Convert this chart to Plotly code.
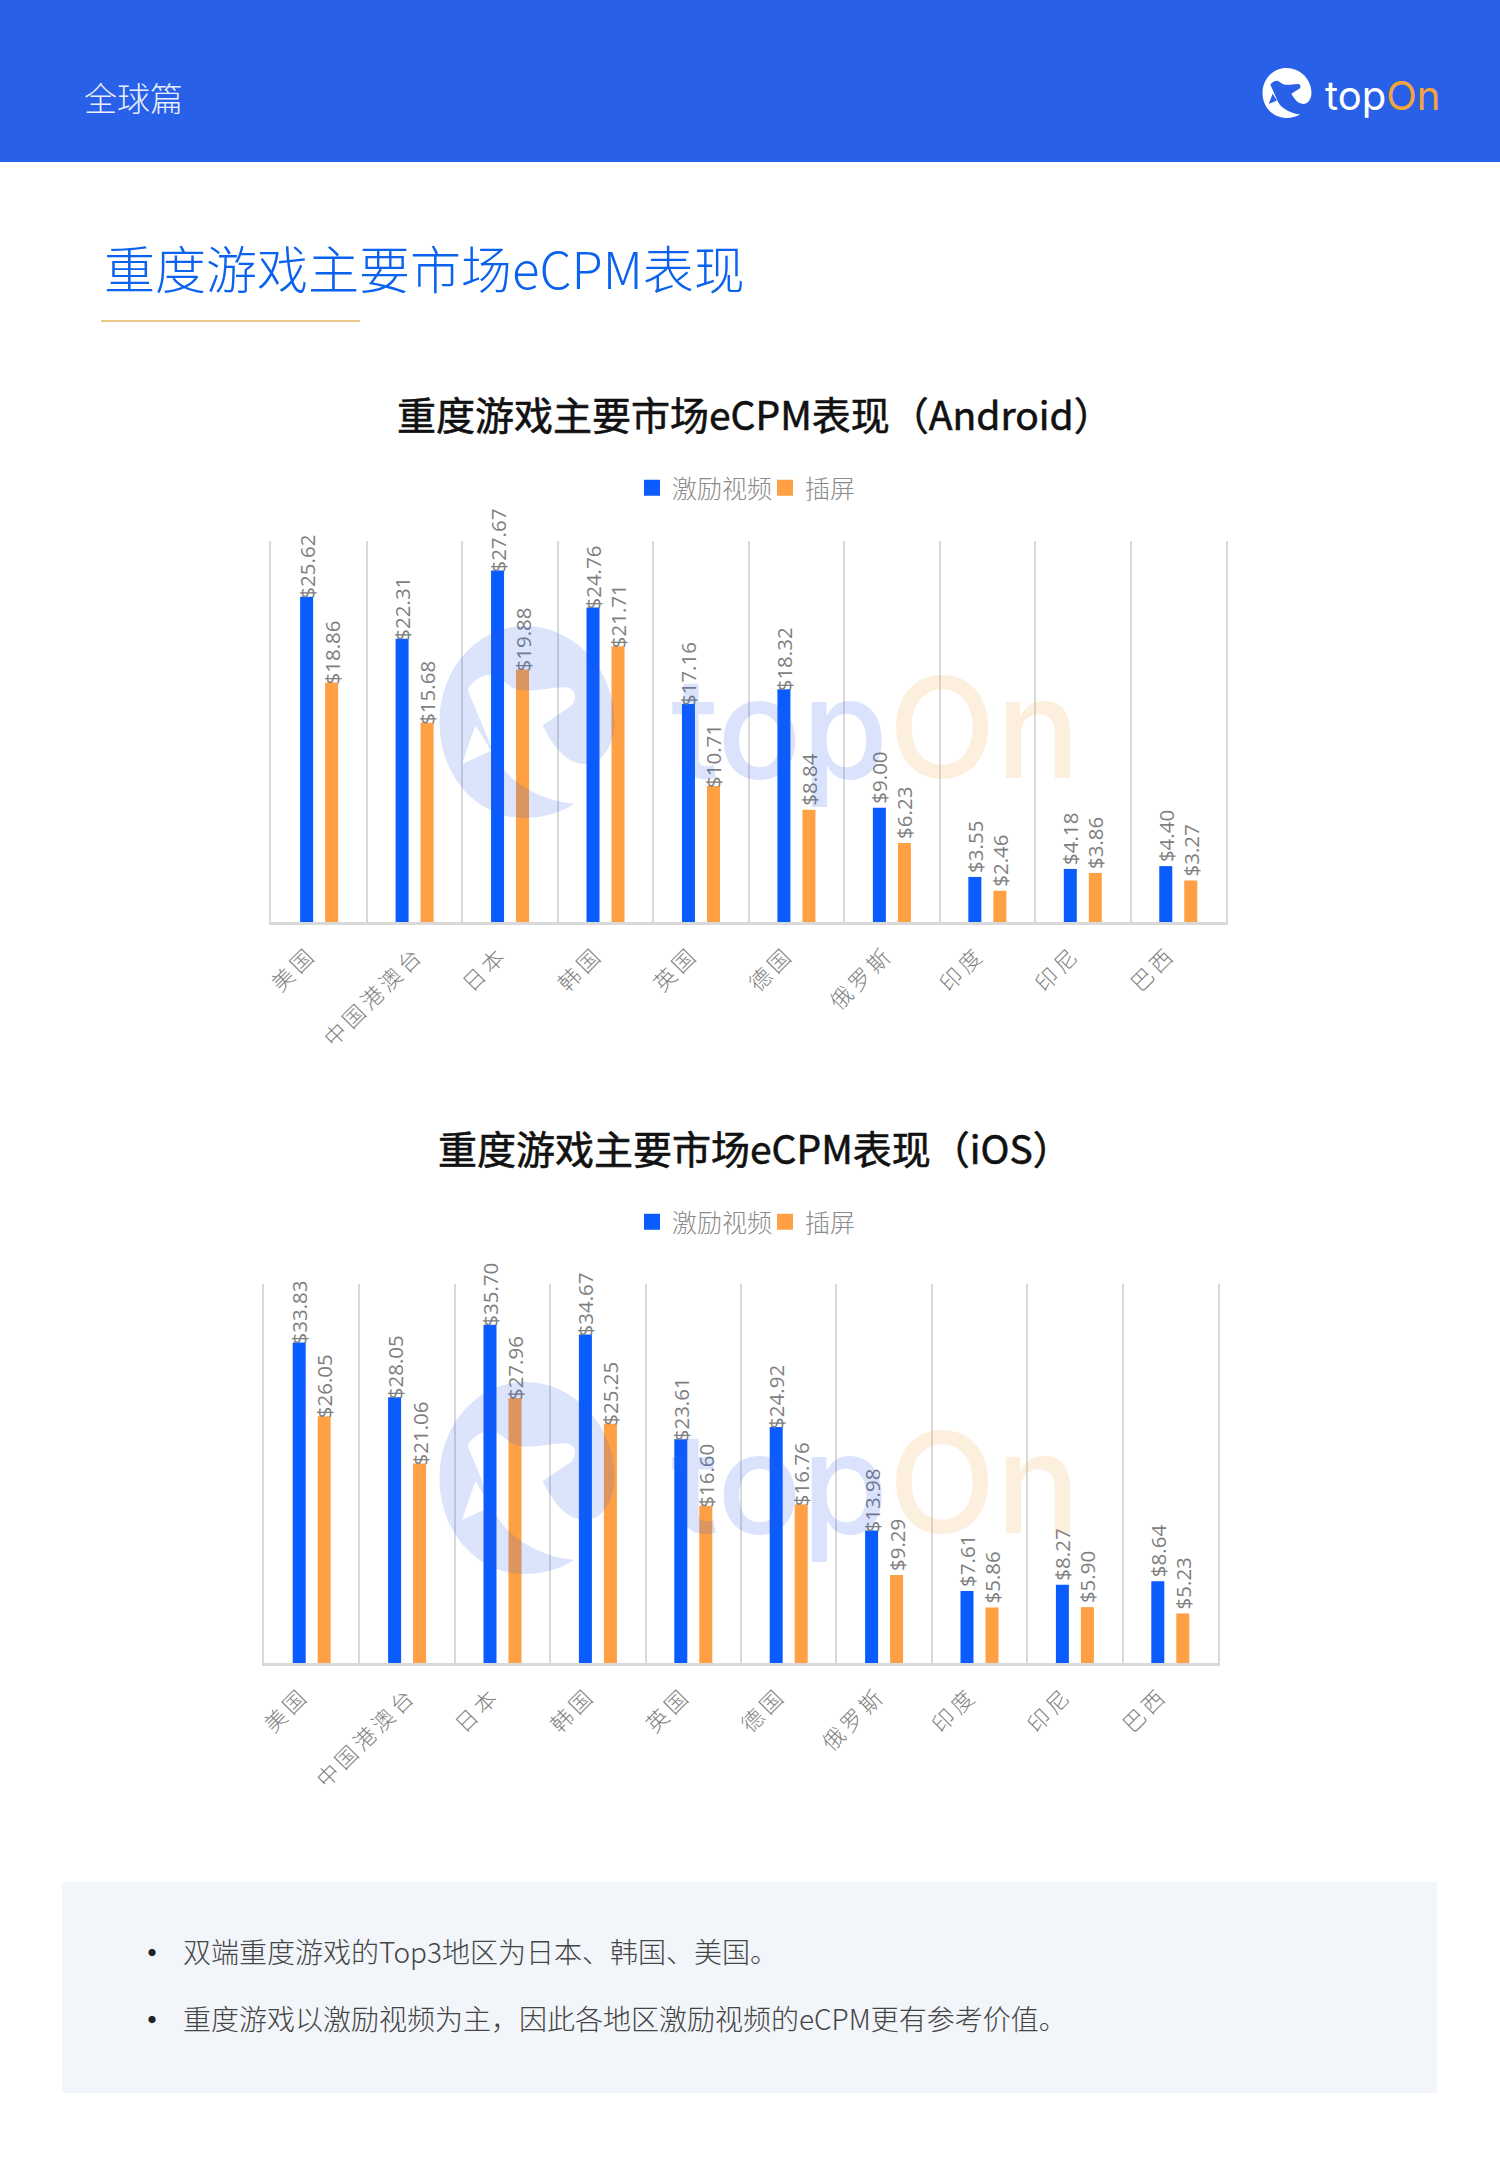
import plotly.graph_objects as go

W, H = 1500, 2167

categories = ["美国", "中国港澳台", "日本", "韩国", "英国", "德国", "俄罗斯", "印度", "印尼", "巴西"]
series_names = ["激励视频", "插屏"]
android_rewarded = [25.62, 22.31, 27.67, 24.76, 17.16, 18.32, 9.00, 3.55, 4.18, 4.40]
android_interstitial = [18.86, 15.68, 19.88, 21.71, 10.71, 8.84, 6.23, 2.46, 3.86, 3.27]
ios_rewarded = [33.83, 28.05, 35.70, 34.67, 23.61, 24.92, 13.98, 7.61, 8.27, 8.64]
ios_interstitial = [26.05, 21.06, 27.96, 25.25, 16.60, 16.76, 9.29, 5.86, 5.90, 5.23]

section = "全球篇"
page_title = "重度游戏主要市场eCPM表现"
android_title = "重度游戏主要市场eCPM表现（Android）"
ios_title = "重度游戏主要市场eCPM表现（iOS）"
notes = ["双端重度游戏的Top3地区为日本、韩国、美国。",
         "重度游戏以激励视频为主，因此各地区激励视频的eCPM更有参考价值。"]

BLUE, ORANGE = "#0A5CFF", "#FFA044"
CJK = "'Noto Sans CJK SC', 'Noto Sans', sans-serif"
LATIN = "Inter, 'Noto Sans', sans-serif"
GRID = "#D9D9D9"


def px(x):
    return x / W


def py(y):
    return 1 - y / H


fig = go.Figure()


def add_bars(vals_a, vals_b, xa, ya, legend):
    for name, vals, col in ((series_names[0], vals_a, BLUE), (series_names[1], vals_b, ORANGE)):
        fig.add_trace(go.Bar(
            x=categories, y=vals, name=name, marker=dict(color=col, line=dict(width=0)),
            text=[f"${v:.2f}" for v in vals], textposition="outside", textangle=-90,
            textfont=dict(size=20.5, color="#7F7F7F", family="'Open Sans', sans-serif"),
            constraintext="none", cliponaxis=False, xaxis=xa, yaxis=ya, legend=legend,
        ))


add_bars(android_rewarded, android_interstitial, "x", "y", "legend")
add_bars(ios_rewarded, ios_interstitial, "x2", "y2", "legend2")


def x_axis(l, r, anchor):
    return dict(domain=[px(l), px(r)], anchor=anchor, type="category", categoryorder="array",
                categoryarray=categories, range=[-0.5, 9.5], tickson="boundaries", showgrid=True,
                gridcolor=GRID, gridwidth=2, showline=True, linecolor=GRID, linewidth=3,
                ticks="", tickangle=-45, ticklabelstandoff=8,
                tickfont=dict(size=22, color="#7F7F7F", family=CJK, weight=300), zeroline=False)


def y_axis(t, b, anchor, top):
    return dict(domain=[py(b), py(t)], anchor=anchor, range=[0, top], showticklabels=False,
                ticks="", showline=True, mirror=True, linecolor=GRID, linewidth=1.5,
                showgrid=False, zeroline=False)


shapes = [
    dict(type="rect", xref="paper", yref="paper", x0=0, x1=1, y0=py(162), y1=1,
         fillcolor="#2860E8", line=dict(width=0), layer="below"),
    dict(type="line", xref="paper", yref="paper", x0=px(101), x1=px(360), y0=py(321), y1=py(321),
         line=dict(color="#E5B45F", width=1.5), layer="below"),
    dict(type="rect", xref="paper", yref="paper", x0=px(62), x1=px(1437), y0=py(2093), y1=py(1882),
         fillcolor="#F2F5F9", line=dict(width=0), layer="below"),
]

# logo outline, measured on the reference mark; unit circle around its centre
LOGO = [("M", (345, 608)),
        ("C", (300, 650), (240, 650), (235, 650)),
        ("C", (125, 650), (45, 520), (45, 365)),
        ("C", (45, 205), (130, 80), (235, 80)),
        ("C", (345, 80), (435, 210), (435, 360)),
        ("C", (435, 430), (410, 490), (370, 490)),
        ("C", (325, 490), (295, 430), (275, 375)),
        ("L", (340, 315)),
        ("C", (352, 295), (350, 265), (325, 262)),
        ("C", (290, 260), (240, 285), (205, 262)),
        ("C", (185, 240), (170, 225), (160, 225)),
        ("C", (140, 225), (115, 245), (108, 270)),
        ("L", (170, 470)),
        ("C", (195, 540), (270, 600), (345, 608)),
        ("Z",),
        ("M", (125, 375)), ("L", (95, 490)), ("L", (160, 450)), ("Z",)]


def logo_path(cx, cy, rx, ry):
    out = []
    for seg in LOGO:
        parts = [seg[0]]
        for (zx, zy) in seg[1:]:
            x = cx + (zx - 240) / 195 * rx
            y = cy + (zy - 365) / 285 * ry
            parts.append(f"{px(x):.5f},{py(y):.5f}")
        out.append(" ".join(parts))
    return " ".join(out)


def logo(cx, cy, rx, ry, color, opacity):
    return dict(type="path", xref="paper", yref="paper", path=logo_path(cx, cy, rx, ry),
                fillcolor=color, opacity=opacity, fillrule="evenodd", line=dict(width=0), layer="above")


shapes += [logo(1287, 93, 24.5, 25, "#FFFFFF", 1),
           logo(527, 722, 87.5, 96, "#2860E8", 0.17),
           logo(527, 1478, 87.5, 96, "#2860E8", 0.17)]


def label(text, x, y, size, color, family=CJK, anchor="left", weight=400, opacity=1, yanchor="middle"):
    return dict(text=text, x=px(x), y=py(y), xref="paper", yref="paper", showarrow=False,
                xanchor=anchor, yanchor=yanchor, opacity=opacity, borderpad=0,
                font=dict(size=size, color=color, family=family, weight=weight))


def word(cx_left, base_y, size, c1, c2, opacity=1, weight=400):
    return label(f"<span style='color:{c1}'>top</span><span style='color:{c2}'>On</span>",
                 cx_left, base_y, size, c1, family=LATIN, weight=weight, opacity=opacity, yanchor="middle")


annotations = [
    label(section, 83, 97, 33, "#E8EEFD", weight=300),
    word(1324, 95, 40, "#FFFFFF", "#F5A33C"),
    label(page_title, 103, 267, 51, "#0A62EE", weight=300),
    label(android_title, 755, 413, 39, "#111111", anchor="center"),
    label(ios_title, 755, 1147, 39, "#111111", anchor="center"),
    word(670, 727, 140, "#2860E8", "#F5A33C", opacity=0.17, weight=500),
    word(670, 1482, 140, "#2860E8", "#F5A33C", opacity=0.17, weight=500),
]
for txt, y in zip(notes, (1951, 2018)):
    annotations.append(label("•", 134, y, 34, "#222222"))
    annotations.append(label(txt, 182, y, 28, "#444444", weight=300))


def legend_cfg(x, y):
    return dict(orientation="h", x=px(x), y=py(y), xanchor="left", yanchor="middle",
                font=dict(size=25, color="#8C8C8C", family=CJK, weight=300),
                bgcolor="rgba(0,0,0,0)", traceorder="normal",
                entrywidth=88, entrywidthmode="pixels")


fig.update_layout(
    width=W, height=H, margin=dict(l=0, r=0, t=0, b=0), autosize=False,
    paper_bgcolor="white", plot_bgcolor="rgba(0,0,0,0)",
    barmode="group", bargap=0.476, bargroupgap=0.48,
    showlegend=True, legend=legend_cfg(632, 488), legend2=legend_cfg(632, 1222),
    xaxis=x_axis(271.4, 1226, "y"), yaxis=y_axis(541, 922, "x", 30),
    xaxis2=x_axis(264, 1218, "y2"), yaxis2=y_axis(1284, 1663, "x2", 40),
    shapes=shapes, annotations=annotations,
)

post = """
document.body.style.margin = '0';
function prep(t, s) { t.setAttribute('transform', s + ' ' + (t.getAttribute('transform') || '')); }
document.querySelectorAll('.xtick text, .x2tick text').forEach(function (t) {
  t.style.letterSpacing = '4px';
  prep(t, 'translate(' + (-9 + (t.textContent.length - 2) * 4) + ',0)');
});
document.querySelectorAll('text.bartext').forEach(function (t) {
  prep(t, 'translate(0,' + (t.textContent.length >= 6 ? 5 : -1) + ')');
});
document.querySelectorAll('.annotation-text').forEach(function (t) {
  if (/Android|iOS/.test(t.textContent)) { t.style.stroke = '#111111'; t.style.strokeWidth = '0.6px'; }
});
function legendSwatches() {
  document.querySelectorAll('.legendpoints path').forEach(function (p) { p.setAttribute('d', 'M8,8H-8V-8H8Z'); });
}
legendSwatches();
setTimeout(legendSwatches, 50);
"""
fig.write_html("out.html", config={"displayModeBar": False}, post_script=post)
